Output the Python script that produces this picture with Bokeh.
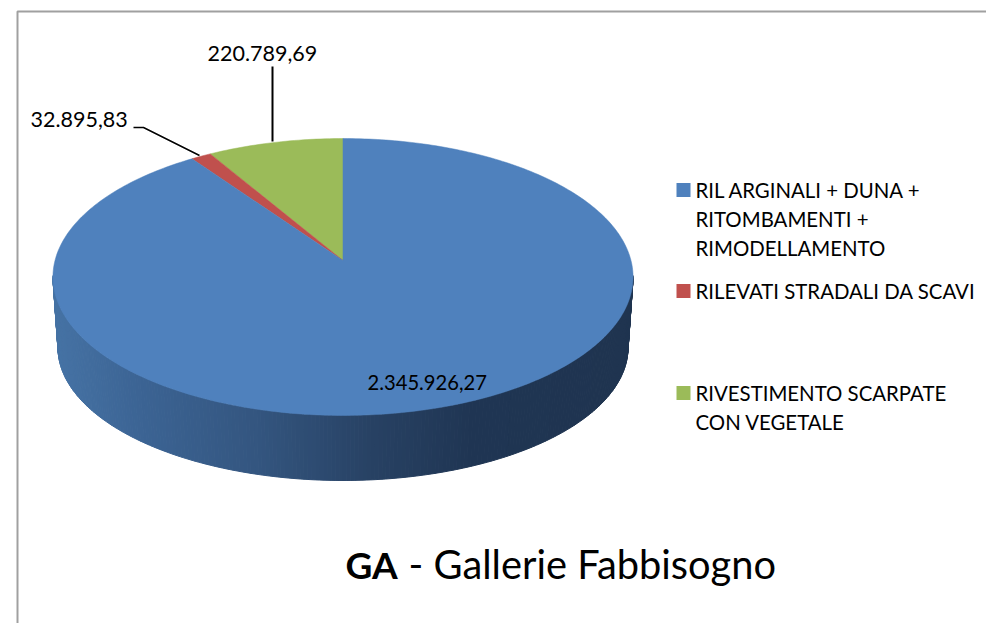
import numpy as np
from bokeh.core.properties import value
from bokeh.embed import file_html
from bokeh.models import Range1d
from bokeh.plotting import figure
from bokeh.resources import INLINE

categories = ["RIL ARGINALI + DUNA + RITOMBAMENTI + RIMODELLAMENTO",
              "RILEVATI STRADALI DA SCAVI",
              "RIVESTIMENTO SCARPATE CON VEGETALE"]
values = [2345926.27, 32895.83, 220789.69]
value_labels = ["2.345.926,27", "32.895,83", "220.789,69"]
colors = ["#4f81bd", "#c0504d", "#9bbb59"]
legend_lines = [["RIL ARGINALI + DUNA +", "RITOMBAMENTI +", "RIMODELLAMENTO"],
                ["RILEVATI STRADALI DA SCAVI"],
                ["RIVESTIMENTO SCARPATE", "CON VEGETALE"]]
title_bold = "GA"
title_rest = "- Gallerie Fabbisogno"

FONT = value("Lato")
W, H = 986, 623

p = figure(width=W, height=H, x_range=Range1d(0, W), y_range=Range1d(H, 0),
           output_backend="svg", toolbar_location=None, min_border=0,
           x_axis_location=None, y_axis_location=None)
p.grid.visible = False
p.outline_line_color = None
p.background_fill_color = "white"


def persp(theta, cx, cy, R, S, k):
    """theta: clockwise from the top of the disc, in radians."""
    u, v = np.sin(theta), np.cos(theta)
    d = 1 + k * v
    return cx + R * u / d, cy - S * v / d


TOP = (342.5, 260, 288, 136.5, 0.119)
BOT = (342.5, 331.3, 283, 131, 0.119)

# frame (only the left and top edges are visible in the source)
p.line([17, 17, W], [H, 11, 11], line_color="#a0a0a0", line_width=2)

# side wall: gradient from left to right
stops_t = [0.0, 0.15, 0.35, 0.55, 0.72, 1.0]
stops_r = [70, 60, 52, 40, 32, 31]
stops_g = [115, 100, 86, 66, 54, 52]
stops_b = [165, 148, 128, 100, 84, 80]
th = np.linspace(np.pi * 0.535, np.pi * 1.465, 241)
xs, ys, cs = [], [], []
for a, b in zip(th[:-1], th[1:]):
    x1, y1 = persp(np.array([a, b]), *TOP)
    x2, y2 = persp(np.array([b, a]), *BOT)
    xs.append(list(x1) + list(x2))
    ys.append(list(y1) + list(y2))
    t = (np.mean(x1) - 52) / 580
    cs.append("#%02x%02x%02x" % (int(np.interp(t, stops_t, stops_r)),
                                 int(np.interp(t, stops_t, stops_g)),
                                 int(np.interp(t, stops_t, stops_b))))
p.patches(xs, ys, fill_color=cs, line_color=cs, line_width=1)

# top face: slices run counter-clockwise from the top, last category first
total = sum(values)
start = 0.0
for v, c in zip(values[::-1], colors[::-1]):
    sweep = v / total * 2 * np.pi
    t = np.linspace(start, start + sweep, max(4, int(sweep * 60)))
    x, y = persp(-t, *TOP)
    p.patch([TOP[0]] + list(x), [TOP[1]] + list(y), fill_color=c, line_color=c, line_width=0.5)
    start += sweep

# leader lines
p.line([272, 272], [66, 141], line_color="black", line_width=2)
p.line([133, 143, 199], [127, 127, 155], line_color="black", line_width=1.5)

# data labels
for x, y, s, sz in [(367, 382, value_labels[0], "20.2px"),
                    (30, 119, value_labels[1], "21.5px"),
                    (207, 53, value_labels[2], "21.5px")]:
    p.text([x], [y], text=[s], text_font=FONT, text_font_size=sz, text_color="black",
           text_align="left", text_baseline="middle")

# legend
legend_y = [[189.5, 218, 247.5], [290.5], [392.5, 421.5]]
for lines, rows, c in zip(legend_lines, legend_y, colors):
    p.rect([683], [rows[0]], width=14, height=14, fill_color=c, line_color=None)
    for s, y in zip(lines, rows):
        p.text([695], [y], text=[s], text_font=FONT, text_font_size="20.4px", text_color="black",
               text_align="left", text_baseline="middle")

# title
p.text([345], [564], text=[title_bold], text_font=FONT, text_font_size="37px",
       text_font_style="bold", text_color="black", text_baseline="middle")
p.text([408], [563], text=[title_rest], text_font=FONT, text_font_size="39.8px",
       text_color="black", text_baseline="middle")

open("out.html", "w").write(file_html(p, INLINE))
